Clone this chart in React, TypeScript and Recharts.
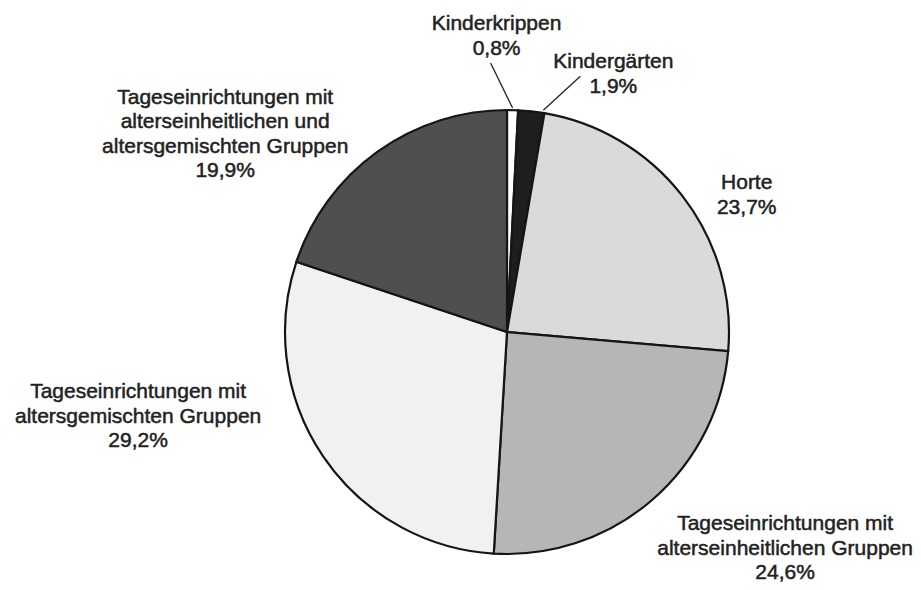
import { Pie, PieChart } from 'recharts'

const categories = [
  'Kinderkrippen',
  'Kindergärten',
  'Horte',
  'Tageseinrichtungen mit alterseinheitlichen Gruppen',
  'Tageseinrichtungen mit altersgemischten Gruppen',
  'Tageseinrichtungen mit alterseinheitlichen und altersgemischten Gruppen',
]
const shares = [0.8, 1.9, 23.7, 24.6, 29.2, 19.9]
const labelLines = [
  ['Kinderkrippen'],
  ['Kindergärten'],
  ['Horte'],
  ['Tageseinrichtungen mit', 'alterseinheitlichen Gruppen'],
  ['Tageseinrichtungen mit', 'altersgemischten Gruppen'],
  ['Tageseinrichtungen mit', 'alterseinheitlichen und', 'altersgemischten Gruppen'],
]

const fills = ['#ffffff', '#1e1e1e', '#dadada', '#b6b6b6', '#f1f1f1', '#4f4f4f']

// label offsets relative to the slice's outer point at its mid angle
const labelLayout = [
  { dx: -16, dy: -80, lead: [0, -2, -22, -47] },
  { dx: 82, dy: -43, lead: [12, -1, 49, -35] },
  { dx: 64, dy: -7 },
  { dx: 133, dy: 30 },
  { dx: -185, dy: -58 },
  { dx: -152, dy: -48 },
]

const data = categories.map((name, i) => ({ name, value: shares[i], fill: fills[i] }))

const RAD = Math.PI / 180
const LINE_H = 24.5
const fmt = (v: number) => v.toFixed(1).replace('.', ',') + '%'

function renderLabel(props: any) {
  const { cx, cy, midAngle, outerRadius, index } = props
  const ox = cx + outerRadius * Math.cos(-midAngle * RAD)
  const oy = cy + outerRadius * Math.sin(-midAngle * RAD)
  const lay = labelLayout[index]
  const lines = [...labelLines[index], fmt(shares[index])]
  const x = ox + lay.dx
  const y = oy + lay.dy
  return (
    <g key={index}>
      {lay.lead && (
        <line
          x1={ox + lay.lead[0]}
          y1={oy + lay.lead[1]}
          x2={ox + lay.lead[2]}
          y2={oy + lay.lead[3]}
          stroke="#222"
          strokeWidth={1.3}
        />
      )}
      <text
        x={x}
        y={y}
        textAnchor="middle"
        fill="#222"
        stroke="#222"
        strokeWidth={0.5}
        fontFamily="'Liberation Sans', Arial, sans-serif"
        fontSize={21}
      >
        {lines.map((l, j) => (
          <tspan key={j} x={x} y={y + j * LINE_H}>
            {l}
          </tspan>
        ))}
      </text>
    </g>
  )
}

export default function App() {
  return (
    <div style={{ position: 'absolute', left: 0, top: 0, background: '#fff' }}>
      <PieChart width={921} height={590} margin={{ top: 0, right: 0, bottom: 0, left: 0 }}>
        <Pie
          data={data}
          dataKey="value"
          nameKey="name"
          cx={507}
          cy={332}
          outerRadius={222}
          startAngle={90}
          endAngle={-270}
          stroke="#151515"
          strokeWidth={2.2}
          label={renderLabel}
          labelLine={false}
          isAnimationActive={false}
        />
      </PieChart>
    </div>
  )
}
